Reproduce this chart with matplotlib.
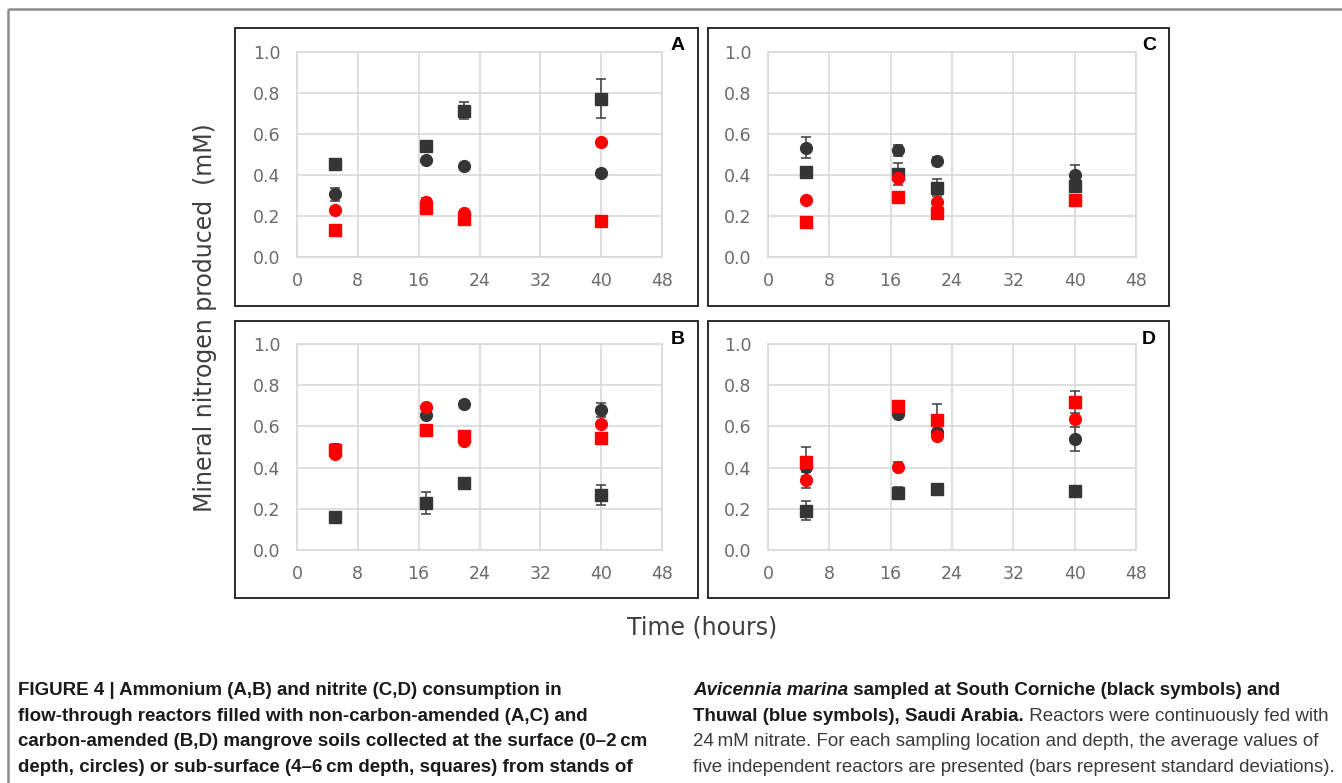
import matplotlib
matplotlib.use("Agg")
import matplotlib.pyplot as plt

W, H = 1342, 783

hours = [5, 17, 22, 40]
x_ticks = [0, 8, 16, 24, 32, 40, 48]
y_ticks = [0.0, 0.2, 0.4, 0.6, 0.8, 1.0]

# panel A - ammonium, no carbon
a_blk_circ = [0.305, 0.475, 0.446, 0.408]
a_blk_circ_sd = [0.034, 0.0, 0.0, 0.015]
a_blk_sq = [0.454, 0.541, 0.713, 0.773]
a_blk_sq_sd = [0.0, 0.0, 0.042, 0.093]
a_red_circ = [0.230, 0.270, 0.215, 0.562]
a_red_circ_sd = [0.0, 0.020, 0.0, 0.0]
a_red_sq = [0.133, 0.238, 0.186, 0.178]
a_red_sq_sd = [0.0, 0.0, 0.0, 0.0]

# panel B - ammonium, carbon amended
b_blk_circ = [0.490, 0.656, 0.708, 0.681]
b_blk_circ_sd = [0.024, 0.0, 0.015, 0.035]
b_blk_sq = [0.160, 0.227, 0.325, 0.266]
b_blk_sq_sd = [0.0, 0.053, 0.012, 0.048]
b_red_circ = [0.467, 0.694, 0.527, 0.612]
b_red_circ_sd = [0.0, 0.0, 0.0, 0.0]
b_red_sq = [0.486, 0.583, 0.551, 0.546]
b_red_sq_sd = [0.0, 0.0, 0.0, 0.0]

# panel C - nitrite, no carbon
c_blk_circ = [0.533, 0.520, 0.467, 0.402]
c_blk_circ_sd = [0.050, 0.025, 0.020, 0.045]
c_blk_sq = [0.417, 0.405, 0.339, 0.348]
c_blk_sq_sd = [0.0, 0.055, 0.040, 0.030]
c_red_circ = [0.276, 0.386, 0.266, 0.280]
c_red_circ_sd = [0.0, 0.0, 0.0, 0.0]
c_red_sq = [0.172, 0.292, 0.217, 0.279]
c_red_sq_sd = [0.010, 0.0, 0.0, 0.0]

# panel D - nitrite, carbon amended
d_blk_circ = [0.405, 0.660, 0.573, 0.539]
d_blk_circ_sd = [0.0, 0.0, 0.0, 0.060]
d_blk_sq = [0.191, 0.276, 0.295, 0.287]
d_blk_sq_sd = [0.045, 0.030, 0.0, 0.0]
d_red_circ = [0.340, 0.405, 0.554, 0.635]
d_red_circ_sd = [0.040, 0.020, 0.0, 0.0]
d_red_sq = [0.428, 0.697, 0.632, 0.719]
d_red_sq_sd = [0.070, 0.0, 0.076, 0.052]

BLACK = "#353535"
RED = "#ff0000"
GRID = "#d9d9d9"
TICK = "#6b6b6b"

panels = {
    "A": [(a_blk_circ, a_blk_circ_sd, "o", BLACK), (a_blk_sq, a_blk_sq_sd, "s", BLACK),
          (a_red_circ, a_red_circ_sd, "o", RED), (a_red_sq, a_red_sq_sd, "s", RED)],
    "B": [(b_blk_circ, b_blk_circ_sd, "o", BLACK), (b_blk_sq, b_blk_sq_sd, "s", BLACK),
          (b_red_circ, b_red_circ_sd, "o", RED), (b_red_sq, b_red_sq_sd, "s", RED)],
    "C": [(c_blk_circ, c_blk_circ_sd, "o", BLACK), (c_blk_sq, c_blk_sq_sd, "s", BLACK),
          (c_red_circ, c_red_circ_sd, "o", RED), (c_red_sq, c_red_sq_sd, "s", RED)],
    "D": [(d_blk_circ, d_blk_circ_sd, "o", BLACK), (d_blk_sq, d_blk_sq_sd, "s", BLACK),
          (d_red_circ, d_red_circ_sd, "o", RED), (d_red_sq, d_red_sq_sd, "s", RED)],
}

# pixel layout: panel box (x0, y0, x1, y1) and plot area (x0, y0, x1, y1)
layout = {
    "A": ((235, 28, 698, 306), (297, 52, 662, 257)),
    "C": ((708, 28, 1169, 306), (768, 52, 1136, 257)),
    "B": ((235, 321, 698, 598), (297, 344, 662, 550)),
    "D": ((708, 321, 1169, 598), (768, 344, 1136, 550)),
}

fig = plt.figure(figsize=(W / 100, H / 100), dpi=100)

# overlay in pixel coords for frames and captions
over = fig.add_axes([0, 0, 1, 1], zorder=5)
over.set_xlim(0, W)
over.set_ylim(H, 0)
over.axis("off")

over.plot([8, 8], [9, H], color="#8c8c8c", lw=1.8, solid_capstyle="butt")
over.plot([8, W], [9, 9], color="#8c8c8c", lw=1.8, solid_capstyle="butt")

for name, (box, area) in layout.items():
    bx0, by0, bx1, by1 = box
    over.add_patch(plt.Rectangle((bx0, by0), bx1 - bx0, by1 - by0, fill=False,
                                 ec="#2b2b2b", lw=1.4))
    over.text(bx1 - 20, by0 + 18, name, ha="center", va="center", fontsize=14,
              fontweight="bold", family="Liberation Sans", color="black")

    x0, y0, x1, y1 = area
    ax = fig.add_axes([x0 / W, 1 - y1 / H, (x1 - x0) / W, (y1 - y0) / H])
    for vals, sd, mk, col in panels[name]:
        ax.errorbar(hours, vals, yerr=sd, fmt="none", ecolor="#3c3c3c",
                    elinewidth=1.1, capsize=3.5, capthick=1.1, zorder=2)
        ax.plot(hours, vals, ls="none", marker=mk, ms=8 if mk == "s" else 8.5,
                color=col, mec=col, zorder=3)
    ax.set_xlim(0, 48)
    ax.set_ylim(0, 1.0)
    ax.set_xticks(x_ticks)
    ax.set_yticks(y_ticks)
    ax.set_yticklabels([f"{v:.1f}" for v in y_ticks])
    ax.grid(True, color=GRID, lw=1.2)
    ax.set_axisbelow(True)
    for sp in ax.spines.values():
        sp.set_color(GRID)
        sp.set_linewidth(1.2)
    ax.tick_params(length=0, labelsize=12.5, labelcolor=TICK)
    ax.tick_params(axis="y", pad=12)
    ax.tick_params(axis="x", pad=11)

over.text(205, 318, "Mineral nitrogen produced  (mM)", rotation=90, ha="center",
          va="center", fontsize=17, color="#3f3f3f")
over.text(702, 627, "Time (hours)", ha="center", va="center", fontsize=17,
          color="#3f3f3f")

# caption
CAP_FONT = ["Liberation Sans Narrow", "Liberation Sans", "DejaVu Sans"]
CAP_SIZE = 13.5


def caption_line(x, y, parts):
    prev = None
    for txt, weight, style in parts:
        col = "#1a1a1a" if weight == "bold" else "#3a3a3a"
        kw = dict(fontsize=CAP_SIZE, fontweight=weight, fontstyle=style,
                  family=CAP_FONT, color=col, ha="left", va="bottom")
        if prev is None:
            prev = over.text(x, y, txt, **kw)
        else:
            prev = over.annotate(txt, xy=(1, 0), xycoords=prev, annotation_clip=False, **kw)


line_y = [699, 725, 750, 776]
left_lines = [
    "FIGURE 4 | Ammonium (A,B) and nitrite (C,D) consumption in",
    "flow-through reactors filled with non-carbon-amended (A,C) and",
    "carbon-amended (B,D) mangrove soils collected at the surface (0\u20132\u2009cm",
    "depth, circles) or sub-surface (4\u20136\u2009cm depth, squares) from stands of",
]
for yy, t in zip(line_y, left_lines):
    caption_line(18, yy, [(t, "bold", "normal")])

caption_line(693, line_y[0], [("Avicennia marina", "bold", "italic"),
                              (" sampled at South Corniche (black symbols) and", "bold", "normal")])
caption_line(693, line_y[1], [("Thuwal (blue symbols), Saudi Arabia.", "bold", "normal"),
                              (" Reactors were continuously fed with", "normal", "normal")])
caption_line(693, line_y[2], [("24\u2009mM nitrate. For each sampling location and depth, the average values of",
                               "normal", "normal")])
caption_line(693, line_y[3], [("five independent reactors are presented (bars represent standard deviations).",
                               "normal", "normal")])

fig.savefig("out.png", dpi=100)
